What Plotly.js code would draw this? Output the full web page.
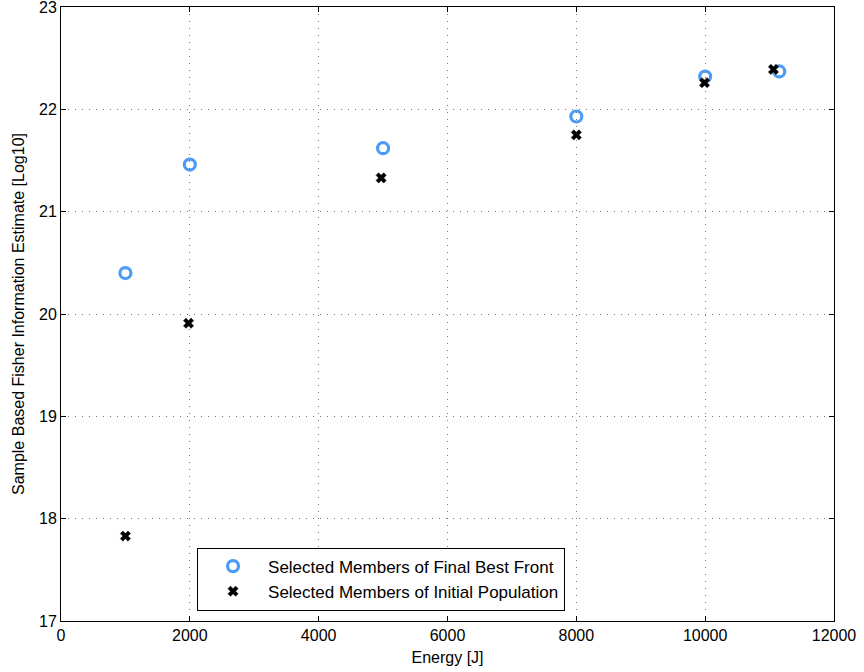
<!DOCTYPE html>
<html>
<head>
<meta charset="utf-8">
<script src="https://cdn.plot.ly/plotly-3.0.1.min.js"></script>
<style>html,body{margin:0;padding:0;background:#fff;}#chart{width:864px;height:672px;}</style>
</head>
<body>
<div id="chart"></div>
<script>
// Final best front members (energy in J, log10 Fisher information)
const frontEnergy = [1000, 2000, 5000, 8000, 10000, 11150];
const frontFisher = [20.40, 21.46, 21.62, 21.93, 22.32, 22.37];

// Initial population members
const initEnergy = [1000, 1980, 4970, 8000, 9990, 11060];
const initFisher = [17.83, 19.91, 21.33, 21.75, 22.26, 22.39];

const xTicks = [0, 2000, 4000, 6000, 8000, 10000, 12000];
const yTicks = [17, 18, 19, 20, 21, 22, 23];

const family = 'Liberation Sans, Arial, sans-serif';
const tickFont = {family: family, size: 16, color: '#000'};
const legendFont = {family: family, size: 17, color: '#000'};

const traces = [
  {
    x: frontEnergy, y: frontFisher, type: 'scatter', mode: 'markers',
    name: 'Selected Members of Final Best Front',
    marker: {symbol: 'circle-open', size: 11, color: '#4d9bf5', line: {width: 3.2, color: '#4d9bf5'}}
  },
  {
    x: initEnergy, y: initFisher, type: 'scatter', mode: 'markers',
    name: 'Selected Members of Initial Population',
    marker: {symbol: 'x', size: 9, color: '#000', line: {width: 0.5, color: '#000'}}
  }
];

const axisCommon = {
  showline: true, linecolor: '#000', linewidth: 1, mirror: 'ticks',
  ticks: 'inside', ticklen: 5, tickcolor: '#000', tickwidth: 1,
  showgrid: true, gridcolor: '#777', griddash: '1px,6px', gridwidth: 1,
  zeroline: false, tickfont: tickFont, ticklabeloverflow: 'allow'
};

const layout = {
  width: 864, height: 672,
  margin: {l: 61, r: 30, t: 7, b: 51},
  paper_bgcolor: '#fff', plot_bgcolor: '#fff',
  font: tickFont,
  showlegend: true,
  xaxis: Object.assign({}, axisCommon, {
    range: [0, 12000], tickvals: xTicks, ticktext: xTicks.map(String),
    title: {text: 'Energy [J]', font: tickFont, standoff: 8}
  }),
  yaxis: Object.assign({}, axisCommon, {
    range: [17, 23], tickvals: yTicks, ticktext: yTicks.map(String),
    title: {text: 'Sample Based Fisher Information Estimate [Log10]', font: tickFont, standoff: 10}
  }),
  legend: {
    x: 0.176, y: 0.017, xanchor: 'left', yanchor: 'bottom',
    bgcolor: '#fff', bordercolor: '#000', borderwidth: 1,
    font: legendFont, itemwidth: 60, tracegroupgap: 0
  }
};

Plotly.newPlot('chart', traces, layout, {displayModeBar: false, staticPlot: true});
</script>
</body>
</html>
